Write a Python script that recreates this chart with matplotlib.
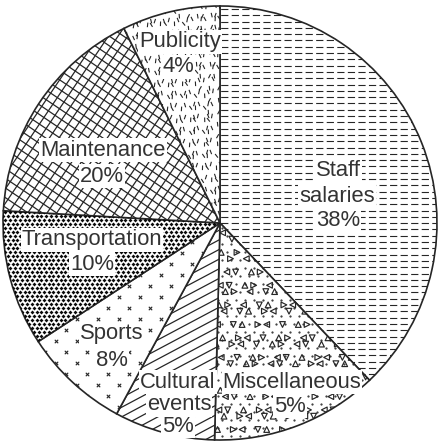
import numpy as np
import matplotlib
matplotlib.use('Agg')
import matplotlib.pyplot as plt
from matplotlib.collections import LineCollection

plt.rcParams['font.family'] = ['Liberation Sans', 'DejaVu Sans']

# slices as drawn in the picture (clockwise from 12 o'clock)
categories = ['Staff salaries', 'Miscellaneous', 'Cultural events', 'Sports',
              'Transportation', 'Maintenance', 'Publicity']
drawn_share = [37.9, 12.5, 7.5, 7.9, 10.1, 16.8, 7.3]
# percentages printed on the chart
printed_pct = ['38%', '5%', '5%', '8%', '10%', '20%', '4%']
label_lines = [['Staff', 'salaries'], ['Miscellaneous'], ['Cultural', 'events'],
               ['Sports'], ['Transportation'], ['Maintenance'], ['Publicity']]

W, H = 438, 442
cx, cy, R = 220, H - 223, 217
ink = '#262626'

fig = plt.figure(figsize=(W / 100, H / 100), dpi=100)
ax = fig.add_axes([0, 0, 1, 1])
wedges, _ = ax.pie(drawn_share, startangle=90, counterclock=False,
                   center=(cx, cy), radius=R,
                   wedgeprops=dict(facecolor='white', edgecolor=ink, linewidth=1.2))
ax.set_xlim(0, W)
ax.set_ylim(0, H)
ax.set_aspect('equal')
ax.axis('off')


def line_family(angle, spacing, lw=0.9, dashes=None):
    # parallel lines across the whole pie at the given angle
    t = np.deg2rad(angle)
    d = np.array([np.cos(t), np.sin(t)])
    n = np.array([-np.sin(t), np.cos(t)])
    segs = []
    for k in np.arange(-R - 10, R + 10, spacing):
        p = np.array([cx, cy]) + n * k
        segs.append([p - d * (R + 20), p + d * (R + 20)])
    lc = LineCollection(segs, colors=ink, linewidths=lw)
    if dashes is not None:
        lc.set_linestyle((0, dashes))
    return lc


def lattice(step, row=None, stagger=True):
    row = step * 0.87 if row is None else row
    pts = []
    for j, y in enumerate(np.arange(cy - R, cy + R + step, row)):
        off = step / 2 if (stagger and j % 2) else 0
        for i, x in enumerate(np.arange(cx - R - step, cx + R + step, step)):
            pts.append((x + off, y, i, j))
    return np.array(pts)


# Staff salaries: dashed horizontal lines
lc = line_family(0, 6.3, lw=0.8, dashes=(6.5, 3.0))
ax.add_collection(lc)
lc.set_clip_path(wedges[0])

# Miscellaneous: small open triangles and dots
pts = lattice(13, 10.5)
marks = ['^', 'v', '<', '>']
for m in range(4):
    sel = ((pts[:, 2] * 3 + pts[:, 3] * 5) % 4) == m
    jx = ((pts[sel, 2] * 7 + pts[sel, 3] * 3) % 5 - 2) * 1.4
    jy = ((pts[sel, 2] * 5 + pts[sel, 3] * 7) % 5 - 2) * 1.4
    sc = ax.scatter(pts[sel, 0] + jx, pts[sel, 1] + jy, marker=marks[m], s=17,
                    facecolors='none', edgecolors=ink, linewidths=0.85)
    sc.set_clip_path(wedges[1])
dots = lattice(9, 8)
sc = ax.scatter(dots[:, 0] + 3, dots[:, 1] + 4, marker='.', s=1.2, color=ink)
sc.set_clip_path(wedges[1])

# Cultural events: slanted lines
lc = line_family(28, 8.5, lw=0.9)
ax.add_collection(lc)
lc.set_clip_path(wedges[2])

# Sports: scattered small crosses
pts = lattice(21, 11)
sc = ax.scatter(pts[:, 0], pts[:, 1], marker='x', s=6, color=ink, linewidths=0.8)
sc.set_clip_path(wedges[3])

# Transportation: dense dots
pts = lattice(4.8, 4.0)
sc = ax.scatter(pts[:, 0], pts[:, 1], marker='D', s=4.0, color='#0a0a0a',
                linewidths=0)
sc.set_clip_path(wedges[4])

# Maintenance: tilted cross grid
for ang in (56, -34):
    lc = line_family(ang, 8, lw=0.9)
    ax.add_collection(lc)
    lc.set_clip_path(wedges[5])

# Publicity: short strokes scattered
pts = lattice(7, 6)
segs = []
for x, y, i, j in pts:
    k = int(i * 37 + j * 53)
    a = np.deg2rad(95 + (k % 70) - 35)
    jx = ((k // 3) % 5 - 2) * 1.1
    jy = ((k // 7) % 5 - 2) * 1.1
    dx, dy = 2.3 * np.cos(a), 2.3 * np.sin(a)
    segs.append([(x + jx - dx, y + jy - dy), (x + jx + dx, y + jy + dy)])
lc = LineCollection(segs, colors=ink, linewidths=0.8)
ax.add_collection(lc)
lc.set_clip_path(wedges[6])

# label line centres in pixels from the top-left corner
label_pos = [[(338, 170), (337, 196)], [(292, 382)], [(178, 382), (179, 405)],
             [(112, 334)], [(92, 240)], [(103, 150)], [(180, 42)]]
pct_pos = [(338, 220), (290, 406), (178, 426), (112, 360),
           (92, 264), (102, 176), (178, 67)]
box = dict(facecolor='white', edgecolor='none', pad=0.8)
for lines, pos, pct, (px, py) in zip(label_lines, label_pos, printed_pct, pct_pos):
    for txt, (x, y) in zip(lines, pos):
        ax.text(x, H - y, txt, ha='center', va='center',
                fontsize=15.8, color='#333333', bbox=box)
    ax.text(px, H - py, pct, ha='center', va='center',
            fontsize=15.8, color='#333333', bbox=box)

fig.savefig('out.png', dpi=100)
